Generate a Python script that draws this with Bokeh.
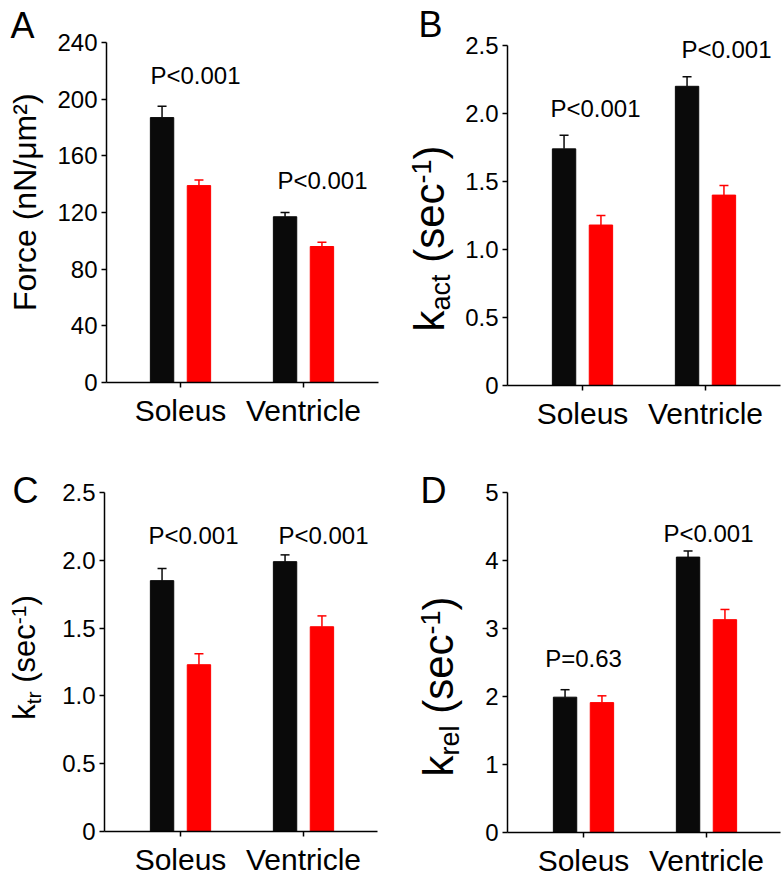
import math
from bokeh.plotting import figure
from bokeh.models import Label, FixedTicker
from bokeh.layouts import gridplot
from bokeh.embed import file_html
from bokeh.resources import INLINE

FONT = "Liberation Sans"
BLACK = "#0a0a0a"
RED = "#ff0000"

# ---------------- data ----------------
categories = ["Soleus", "Ventricle"]
cat_pos = [1, 2]

force_ctrl = [187, 117]
force_ctrl_err = [8, 3]
force_mut = [139, 96]
force_mut_err = [4, 3]
force_p = ["P<0.001", "P<0.001"]

kact_ctrl = [1.74, 2.20]
kact_ctrl_err = [0.10, 0.07]
kact_mut = [1.18, 1.40]
kact_mut_err = [0.07, 0.07]
kact_p = ["P<0.001", "P<0.001"]

ktr_ctrl = [1.85, 1.99]
ktr_ctrl_err = [0.09, 0.05]
ktr_mut = [1.23, 1.51]
ktr_mut_err = [0.08, 0.08]
ktr_p = ["P<0.001", "P<0.001"]

krel_ctrl = [1.99, 4.05]
krel_ctrl_err = [0.11, 0.09]
krel_mut = [1.91, 3.13]
krel_mut_err = [0.10, 0.15]
krel_p = ["P=0.63", "P<0.001"]

force_ticks = [0, 40, 80, 120, 160, 200, 240]
force_tick_labels = ["0", "40", "80", "120", "160", "200", "240"]
rate_ticks = [0, 0.5, 1.0, 1.5, 2.0, 2.5]
rate_tick_labels = ["0", "0.5", "1.0", "1.5", "2.0", "2.5"]
krel_ticks = [0, 1, 2, 3, 4, 5]
krel_tick_labels = ["0", "1", "2", "3", "4", "5"]

# ---------------- helpers ----------------
CW = {'k': .5, 'a': .556, 'c': .5, 't': .278, 'r': .333, 'e': .556, 'l': .222,
      ' ': .278, '(': .333, ')': .333, 's': .5, '-': .333, '1': .556}


def tw(text, size):
    return sum(CW.get(ch, .556) for ch in text) * size


UNIT = 123.0  # px between the two category positions
MID = 0.34    # distance of the text middle above the baseline, in em


def make_panel(spec):
    ox, oy = spec["origin"]
    W, H = spec["W"], spec["H"]
    L, R, T, B = spec["frame"]
    ymax = spec["ymax"]
    a = 1 - (spec["cat1_px"] - ox) / UNIT
    b = a + W / UNIT
    ylo = ymax * (B - (oy + H)) / (B - T)
    yhi = ymax * (B - oy) / (B - T)

    def to_data(px, py):
        return (a + (px - ox) / UNIT, ymax * (B - py) / (B - T))

    p = figure(width=W, height=H, x_range=(a, b), y_range=(ylo, yhi),
               min_border=0, output_backend="svg", toolbar_location=None)
    p.title.visible = False
    p.outline_line_color = None
    p.xgrid.visible = False
    p.ygrid.visible = False
    p.background_fill_color = "white"
    p.border_fill_color = "white"

    ctrl, cerr, mut, merr = spec["series"]
    off = 0.15
    bw = 0.19
    xc = [c - off for c in cat_pos]
    xm = [c + off for c in cat_pos]
    p.vbar(x=xc, top=ctrl, width=bw, fill_color=BLACK, line_color=BLACK)
    p.vbar(x=xm, top=mut, width=bw, fill_color=RED, line_color=RED)
    ctop = [v + e for v, e in zip(ctrl, cerr)]
    mtop = [v + e for v, e in zip(mut, merr)]
    p.segment(x0=xc, y0=ctrl, x1=xc, y1=ctop, line_color=BLACK, line_width=1.5)
    p.segment(x0=xm, y0=mut, x1=xm, y1=mtop, line_color=RED, line_width=1.5)
    p.scatter(x=xc, y=ctop, marker="dash", size=9, line_color=BLACK, line_width=1.5)
    p.scatter(x=xm, y=mtop, marker="dash", size=9, line_color=RED, line_width=1.5)

    xL = to_data(L, 0)[0]
    xR = to_data(R, 0)[0]

    # axes placed at fixed data locations
    p.yaxis.fixed_location = xL
    p.yaxis.bounds = (0, ymax)
    p.yaxis.ticker = FixedTicker(ticks=spec["yticks"])
    p.yaxis.major_label_overrides = {t: s for t, s in zip(spec["yticks"], spec["ylabels"])}
    p.yaxis.minor_tick_line_color = None
    p.yaxis.major_tick_in = 0
    p.yaxis.major_tick_out = 5
    p.yaxis.major_label_standoff = 4
    p.yaxis.major_label_text_font = FONT
    p.yaxis.major_label_text_font_size = "24px"
    p.yaxis.major_label_text_color = "black"

    p.xaxis.fixed_location = 0
    p.xaxis.bounds = (xL, xR)
    p.xaxis.ticker = FixedTicker(ticks=cat_pos)
    p.xaxis.major_label_overrides = {c: n for c, n in zip(cat_pos, categories)}
    p.xaxis.minor_tick_line_color = None
    p.xaxis.major_tick_in = 0
    p.xaxis.major_tick_out = 5
    p.xaxis.major_label_standoff = spec["xstandoff"]
    p.xaxis.major_label_text_font = FONT
    p.xaxis.major_label_text_font_size = "30px"
    p.xaxis.major_label_text_color = "black"
    for ax in (p.xaxis, p.yaxis):
        ax.axis_line_width = 1.5
        ax.major_tick_line_width = 1.5
        ax.axis_line_color = "black"
        ax.major_tick_line_color = "black"

    # P values
    for txt, (px, py) in zip(spec["ptext"], spec["ppos"]):
        dx, dy = to_data(px, py)
        p.add_layout(Label(x=dx, y=dy, text=txt, text_align="center", text_baseline="middle",
                           text_font=FONT, text_font_size="24px", text_color="black"))

    # panel letter (given as left x, baseline y)
    lx, ly = spec["letter_pos"]
    dx, dy = to_data(lx, ly - MID * 36)
    p.add_layout(Label(x=dx, y=dy, text=spec["letter"], text_align="left",
                       text_baseline="middle", text_font=FONT,
                       text_font_size="36px", text_color="black"))

    # y axis label composed of pieces (rotated); (text, size, baseline shift)
    xb, yc = spec["ylab_pos"]
    pieces = spec["ylab"]
    total = sum(tw(t, s) for t, s, _ in pieces)
    y = yc + total / 2
    for t, s, sh in pieces:
        if t.strip():
            dx, dy = to_data(xb + sh - MID * s, y)
            p.add_layout(Label(x=dx, y=dy, text=t, angle=math.pi / 2, text_align="left",
                               text_baseline="middle", text_font=FONT,
                               text_font_size=f"{s}px", text_color="black"))
        y -= tw(t, s)
    return p


def rate_label(sub, main, small):
    return [("k", main, 0), (sub, small, round(0.16 * main)), (" ", main, 0),
            ("(sec", main, 0), ("-1", small, -round(0.3 * main)), (")", main, 0)]


specs = [
    dict(origin=(0, 0), W=391, H=440, frame=(106, 378, 42, 382), cat1_px=180,
         ymax=240, yticks=force_ticks, ylabels=force_tick_labels,
         series=(force_ctrl, force_ctrl_err, force_mut, force_mut_err),
         ptext=force_p, ppos=[(195, 75), (322, 180)], xstandoff=6,
         letter="A", letter_pos=(10, 37),
         ylab_pos=(35, 202), ylab=[("Force (nN/μm²)", 32, 0)]),
    dict(origin=(391, 0), W=392, H=440, frame=(507, 780, 45, 385), cat1_px=582,
         ymax=2.5, yticks=rate_ticks, ylabels=rate_tick_labels,
         series=(kact_ctrl, kact_ctrl_err, kact_mut, kact_mut_err),
         ptext=kact_p, ppos=[(595, 108), (726, 49)], xstandoff=6,
         letter="B", letter_pos=(418, 36),
         ylab_pos=(443, 238), ylab=rate_label("act", 42, 27)),
    dict(origin=(0, 440), W=391, H=440, frame=(104, 377, 492, 831), cat1_px=180,
         ymax=2.5, yticks=rate_ticks, ylabels=rate_tick_labels,
         series=(ktr_ctrl, ktr_ctrl_err, ktr_mut, ktr_mut_err),
         ptext=ktr_p, ppos=[(193, 535), (323, 535)], xstandoff=6,
         letter="C", letter_pos=(12, 502),
         ylab_pos=(35, 657), ylab=rate_label("tr", 31, 21)),
    dict(origin=(391, 440), W=392, H=440, frame=(507, 780, 492, 832), cat1_px=583,
         ymax=5, yticks=krel_ticks, ylabels=krel_tick_labels,
         series=(krel_ctrl, krel_ctrl_err, krel_mut, krel_mut_err),
         ptext=krel_p, ppos=[(583, 658), (708, 533)], xstandoff=6,
         letter="D", letter_pos=(420, 502),
         ylab_pos=(452, 686), ylab=rate_label("rel", 42, 27)),
]

panels = [make_panel(s) for s in specs]
grid = gridplot([[panels[0], panels[1]], [panels[2], panels[3]]], toolbar_location=None)

open("out.html", "w").write(file_html(grid, INLINE))
